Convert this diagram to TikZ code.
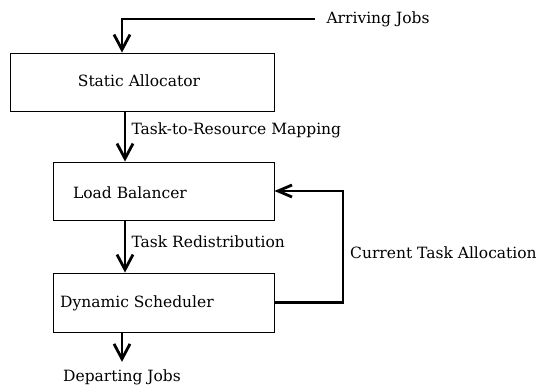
\documentclass[tikz,border=0pt]{standalone}
\usepackage{fontspec}
\setmainfont{DejaVu Serif}
\usetikzlibrary{arrows.meta,positioning}
\begin{document}
\begin{tikzpicture}[x=1pt,y=-1pt,
    box/.style={draw,line width=0.9pt,inner sep=0pt},
    flow/.style={line width=2.8pt,-{Straight Barb[length=15pt,width=16pt]}},
    every node/.append style={font=\fontsize{15.5}{18}\selectfont}
  ]
  \useasboundingbox (0,0) rectangle (540,385);
  % the three stages
  \node[box,minimum width=264pt,minimum height=58pt] (sa) at (142,82)    {};
  \node[box,minimum width=221pt,minimum height=58pt] (lb) at (163.5,191) {};
  \node[box,minimum width=221pt,minimum height=59pt] (ds) at (163.5,302.5) {};
  \node (satext) at (139,81)  {Static Allocator};
  \node (lbtext) at (130,193) {Load Balancer};
  \node (dstext) at (137,303) {Dynamic Scheduler};
  % jobs in and out
  \node (arr) [anchor=west] at (323,19) {Arriving Jobs};
  \node (dep) at (122,377) {Departing Jobs};
  \coordinate (spine) at (125,0);
  \coordinate (loop) at (343,253);
  \draw[flow,shorten <=8pt] (arr.west) -| (sa.north -| dep);
  \draw[flow] (sa.south -| spine) -- (lb.north -| spine);
  \node (map) [anchor=west] at (128,130) {Task-to-Resource Mapping};
  \draw[flow] (lb.south -| spine) -- (ds.north -| spine);
  \node (redist) [anchor=west] at (128,242) {Task Redistribution};
  \draw[flow,shorten >=4pt] (ds.south -| dep) -- (dep.north);
  % feedback
  \draw[flow,-{Straight Barb[length=14pt,width=12pt]}] (ds.east) -- (ds.east -| loop) -- (lb.east -| loop) -- (lb.east);
  \node (cta) [anchor=west,inner xsep=1pt] at ([xshift=6pt]loop) {Current Task Allocation};
\end{tikzpicture}
\end{document}
